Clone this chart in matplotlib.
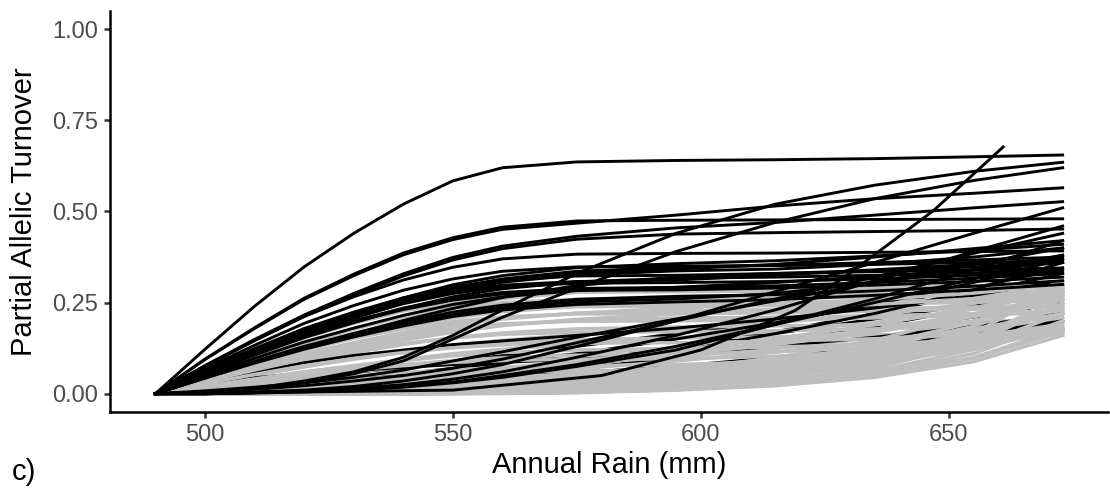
import matplotlib
matplotlib.use("Agg")
import matplotlib.pyplot as plt

rain_knots = [490, 500, 510, 520, 530, 540, 550, 560, 575, 595, 615, 635, 655, 673]

# grey bootstrap splines
grey_curves = [
    [0, .049, .096, .139, .177, .212, .241, .261, .278, .287, .290, .293, .297, .300],
    [0, .056, .106, .154, .193, .227, .252, .269, .279, .280, .282, .285, .289, .293],
    [0, 0, .001, .002, .003, .005, .007, .010, .015, .025, .045, .080, .130, .190],
    [0, .046, .089, .130, .165, .197, .224, .243, .259, .267, .270, .273, .278, .283],
    [0, .052, .099, .143, .179, .211, .234, .250, .259, .260, .262, .265, .270, .275],
    [0, .043, .083, .120, .153, .183, .208, .225, .240, .248, .250, .253, .258, .264],
    [0, 0, 0, 0, 0, 0, 0, .001, .003, .010, .022, .045, .088, .160],
    [0, .048, .091, .132, .166, .194, .216, .230, .239, .240, .242, .246, .251, .257],
    [0, .026, .051, .074, .096, .116, .133, .147, .162, .178, .195, .216, .248, .290],
    [0, .002, .004, .006, .009, .012, .016, .021, .030, .045, .070, .105, .160, .230],
    [0, .039, .076, .110, .140, .168, .191, .207, .221, .228, .230, .233, .238, .244],
    [0, 0, 0, 0, 0, 0, .001, .001, .004, .011, .025, .050, .099, .180],
    [0, .044, .084, .121, .152, .178, .198, .211, .219, .220, .222, .226, .232, .240],
    [0, .020, .041, .060, .077, .094, .110, .122, .136, .153, .171, .195, .232, .280],
    [0, 0, 0, .001, .002, .003, .005, .008, .013, .025, .050, .090, .150, .210],
    [0, .036, .069, .101, .128, .153, .174, .189, .202, .208, .210, .214, .220, .228],
    [0, .001, .002, .003, .005, .008, .012, .017, .026, .042, .064, .094, .140, .200],
    [0, .040, .076, .110, .138, .162, .180, .192, .199, .200, .203, .208, .215, .224],
    [0, .016, .031, .046, .060, .073, .086, .096, .109, .127, .148, .175, .216, .270],
    [0, .004, .008, .012, .016, .020, .025, .030, .038, .052, .075, .110, .165, .235],
    [0, .031, .061, .089, .113, .135, .154, .167, .178, .183, .186, .190, .197, .205],
    [0, 0, 0, 0, 0, 0, .001, .002, .004, .013, .031, .062, .121, .220],
    [0, .034, .065, .094, .117, .138, .153, .163, .169, .170, .173, .178, .186, .196],
    [0, .011, .022, .032, .042, .052, .062, .071, .084, .101, .124, .154, .200, .260],
    [0, .026, .051, .074, .095, .113, .129, .140, .149, .153, .156, .161, .169, .180],
    [0, .001, .002, .004, .006, .010, .014, .020, .031, .050, .077, .113, .168, .240],
    [0, .028, .053, .077, .097, .113, .126, .134, .139, .140, .144, .151, .162, .175],
    [0, .001, .002, .003, .005, .008, .011, .015, .022, .035, .058, .095, .155, .260],
    [0, .007, .013, .019, .024, .029, .034, .038, .042, .052, .068, .096, .150, .240],
    [0, .021, .041, .060, .076, .091, .104, .113, .120, .124, .128, .136, .148, .163],
    [0, .008, .016, .023, .033, .042, .052, .064, .081, .107, .135, .169, .211, .260],
    [0, .019, .036, .053, .067, .080, .091, .099, .106, .109, .115, .128, .145, .168],
    [0, .034, .065, .095, .123, .147, .169, .187, .204, .219, .232, .245, .261, .280],
    [0, .001, .002, .004, .007, .011, .017, .024, .036, .059, .090, .132, .196, .280],
    [0, .019, .036, .052, .066, .077, .086, .091, .095, .096, .103, .118, .140, .172],
    [0, .003, .007, .010, .012, .015, .018, .020, .023, .032, .048, .076, .130, .220],
    [0, 0, 0, 0, 0, 0, .001, .002, .006, .018, .042, .084, .165, .300],
    [0, .014, .026, .038, .049, .058, .066, .072, .077, .080, .088, .104, .130, .175],
    [0, .003, .006, .009, .013, .017, .022, .028, .037, .055, .085, .125, .185, .270],
    [0, .037, .074, .107, .136, .164, .188, .205, .221, .235, .246, .258, .276, .300],
    [0, .001, .002, .005, .008, .012, .019, .026, .040, .065, .099, .146, .217, .310],
    [0, .011, .021, .031, .040, .047, .054, .059, .062, .065, .075, .095, .125, .178],
    [0, .007, .013, .020, .028, .035, .044, .054, .068, .090, .114, .143, .178, .220],
    [0, .006, .011, .017, .022, .028, .034, .040, .049, .062, .078, .100, .135, .180],
    [0, .010, .019, .028, .035, .041, .045, .048, .050, .052, .065, .088, .122, .180],
    [0, .005, .011, .016, .023, .029, .036, .044, .056, .074, .094, .117, .146, .180],
    [0, .009, .017, .026, .036, .046, .058, .071, .090, .119, .151, .189, .235, .290],
    [0, 0, 0, 0, 0, 0, .001, .002, .005, .015, .035, .070, .138, .250],
    [0, .002, .003, .005, .006, .007, .009, .011, .013, .020, .032, .055, .098, .170],
    [0, .008, .016, .024, .034, .043, .054, .066, .084, .111, .140, .176, .219, .270],
    [0, 0, 0, 0, 0, 0, .001, .002, .004, .012, .028, .056, .110, .200],
]

# black splines lying inside the grey band (partly covered by grey)
black_under = [
    [0, .004, .010, .017, .026, .037, .050, .065, .090, .125, .165, .205, .245, .280],
    [0, .010, .020, .030, .040, .050, .060, .070, .085, .110, .140, .175, .210, .250],
    [0, .002, .005, .010, .016, .024, .034, .046, .068, .100, .140, .185, .235, .290],
    [0, .003, .008, .014, .022, .032, .045, .060, .085, .125, .170, .220, .275, .330],
    [0, .015, .030, .045, .058, .072, .088, .105, .130, .165, .200, .240, .290, .345],
    [0, .010, .020, .030, .042, .055, .070, .085, .110, .150, .195, .245, .305, .370],
    [0, 0, .004, .009, .015, .024, .035, .050, .075, .115, .165, .220, .285, .360],
    [0, .022, .044, .056, .064, .072, .080, .086, .095, .110, .130, .155, .185, .220],
    [0, .008, .016, .024, .030, .036, .042, .048, .058, .075, .100, .130, .165, .200],
    [0, .030, .060, .085, .105, .120, .135, .145, .160, .180, .205, .235, .270, .310],
]

# black splines drawn on top
black_curves = [
    [0, .122, .240, .348, .440, .520, .584, .620, .636, .640, .642, .645, .650, .655],
    [0, .095, .181, .262, .328, .386, .428, .457, .474, .476, .477, .478, .479, .480],
    [0, .094, .179, .259, .324, .381, .423, .451, .468, .490, .515, .535, .550, .565],
    [0, .077, .149, .216, .275, .329, .374, .405, .432, .455, .470, .490, .510, .527],
    [0, .075, .146, .212, .270, .323, .367, .398, .424, .438, .442, .445, .448, .452],
    [0, .077, .146, .212, .266, .312, .347, .370, .383, .385, .386, .388, .390, .392],
    [0, .070, .133, .193, .242, .284, .315, .336, .348, .350, .352, .355, .360, .365],
    [0, .058, .112, .163, .207, .248, .282, .306, .326, .337, .342, .355, .375, .400],
    [0, .065, .124, .179, .224, .263, .293, .312, .323, .325, .330, .338, .348, .360],
    [0, .054, .106, .154, .195, .234, .266, .288, .307, .317, .320, .325, .332, .340],
    [0, .061, .116, .168, .210, .247, .275, .293, .303, .305, .308, .315, .325, .335],
    [0, .050, .097, .142, .180, .215, .245, .266, .283, .292, .296, .305, .317, .330],
    [0, .057, .108, .157, .197, .231, .257, .274, .284, .285, .290, .298, .308, .320],
    [0, .046, .089, .130, .165, .197, .224, .243, .259, .267, .272, .282, .295, .310],
    [0, .045, .086, .126, .160, .191, .217, .236, .252, .260, .275, .305, .340, .380],
    [0, .043, .086, .125, .165, .201, .234, .264, .297, .320, .330, .335, .340, .345],
    [0, .060, .116, .168, .214, .256, .291, .315, .336, .347, .352, .360, .367, .375],
    [0, .043, .084, .122, .156, .186, .212, .230, .245, .252, .258, .270, .285, .300],
    [0, .058, .110, .160, .200, .235, .261, .278, .289, .292, .305, .322, .340, .360],
    [0, .059, .114, .166, .210, .252, .286, .311, .331, .342, .355, .375, .398, .420],
    [0, .062, .118, .171, .214, .251, .279, .298, .308, .312, .325, .340, .355, .370],
    [0, .061, .119, .173, .220, .263, .299, .324, .346, .357, .365, .378, .393, .410],
    [0, .005, .015, .035, .060, .100, .160, .230, .330, .440, .520, .572, .610, .635],
    [0, .005, .015, .030, .055, .090, .150, .210, .290, .390, .470, .535, .585, .620],
    [0, 0, .005, .010, .020, .035, .055, .080, .130, .200, .280, .360, .440, .510],
    [0, 0, .003, .008, .015, .025, .040, .060, .100, .160, .230, .310, .390, .460],
    [0, .005, .012, .022, .035, .050, .070, .095, .140, .200, .260, .320, .385, .440],
    [0, 0, .002, .005, .010, .018, .030, .045, .075, .120, .190, .260, .340, .420],
    [0, .008, .018, .030, .045, .065, .090, .115, .155, .205, .255, .305, .355, .400],
    [0, 0, .003, .007, .012, .020, .032, .050, .080, .130, .190, .250, .315, .380],
]

# one bootstrap whose rainfall range stops early
steep_rain = [490, 550, 580, 600, 619, 630, 647, 661]
steep_turnover = [0, .010, .050, .120, .228, .330, .503, .677]

plt.rcParams['font.family'] = ['Liberation Sans', 'DejaVu Sans']

fig = plt.figure(figsize=(11.1, 5.01), dpi=100)
ax = fig.add_axes([110 / 1110, 89 / 501, 998 / 1110, 401 / 501])

lw = 2.1
grey = '#BEBEBE'
half_g = len(grey_curves) // 2
half_k = len(black_under) // 2
for c in black_under[:half_k]:
    ax.plot(rain_knots, c, color='black', lw=lw)
for c in grey_curves[:half_g]:
    ax.plot(rain_knots, c, color=grey, lw=2.5)
for c in black_under[half_k:]:
    ax.plot(rain_knots, c, color='black', lw=lw)
for c in grey_curves[half_g:]:
    ax.plot(rain_knots, c, color=grey, lw=2.5)
for c in black_curves:
    ax.plot(rain_knots, c, color='black', lw=lw)
ax.plot(steep_rain, steep_turnover, color='black', lw=lw)

xr = rain_knots[-1] - rain_knots[0]
ax.set_xlim(rain_knots[0] - 0.05 * xr, rain_knots[-1] + 0.05 * xr)
ax.set_ylim(-0.05, 1.05)
ax.set_xticks([500, 550, 600, 650])
ax.set_yticks([0, 0.25, 0.5, 0.75, 1.0])
ax.set_yticklabels(['0.00', '0.25', '0.50', '0.75', '1.00'])

for s in ['top', 'right']:
    ax.spines[s].set_visible(False)
for s in ['left', 'bottom']:
    ax.spines[s].set_linewidth(1.8)
    ax.spines[s].set_color('black')
ax.tick_params(length=4.5, width=1.8, color='#333333', labelcolor='#4D4D4D',
               labelsize=17, pad=4)

ax.set_xlabel('Annual Rain (mm)', fontsize=21, color='black', labelpad=4)
ax.set_ylabel('Partial Allelic Turnover', fontsize=21, color='black', labelpad=10)
fig.text(12 / 1110, 1 - 472 / 501, 'c)', fontsize=21, va='center', ha='left')

fig.savefig('out.png', dpi=100)
